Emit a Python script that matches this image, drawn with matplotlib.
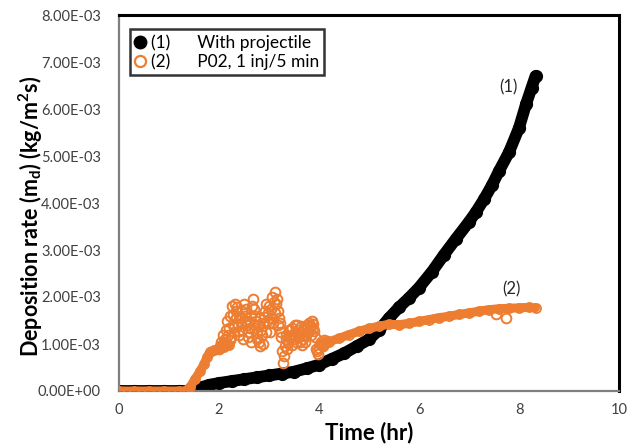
import numpy as np
import matplotlib
matplotlib.use("Agg")
import matplotlib.pyplot as plt
from matplotlib.lines import Line2D
from matplotlib.ticker import FuncFormatter

plt.rcParams['font.family'] = ['Lato', 'DejaVu Sans']

# ---- data (values in units of 1e-3 kg/m^2 s) ----
t_proj = [0.0, 0.3, 0.6, 0.9, 1.2, 1.45, 1.55, 1.65, 1.8, 2.0, 2.25, 2.5, 2.75, 3.0,
          3.25, 3.5, 3.75, 4.0, 4.25, 4.5, 4.75, 5.0, 5.2, 5.4, 5.6, 5.8, 6.0,
          6.26, 6.5, 6.74, 7.0, 7.14, 7.3, 7.46, 7.6, 7.8, 8.0, 8.14, 8.25, 8.33]
v_proj = [0.0, 0.0, 0.0, 0.0, 0.0, 0.0, 0.03, 0.08, 0.13, 0.17, 0.21, 0.25, 0.29, 0.33,
          0.37, 0.41, 0.48, 0.56, 0.68, 0.80, 0.95, 1.10, 1.30, 1.55, 1.78, 1.98, 2.20,
          2.54, 2.90, 3.24, 3.60, 3.81, 4.08, 4.38, 4.68, 5.08, 5.60, 6.10, 6.45, 6.70]

# P02 smooth segments
t_p02_a = [0.0, 0.3, 0.6, 0.9, 1.2, 1.32, 1.42, 1.52, 1.62, 1.70, 1.76, 1.82, 1.90, 2.00, 2.10, 2.20]
v_p02_a = [0.0, 0.0, 0.0, 0.0, 0.0, 0.0, 0.08, 0.25, 0.42, 0.57, 0.72, 0.84, 0.87, 0.89, 0.93, 0.97]
t_p02_b = [4.15, 4.2, 4.4, 4.6, 4.8, 5.0, 5.2, 5.4, 5.6, 5.8, 6.0, 6.2, 6.4, 6.6,
           6.8, 7.0, 7.2, 7.4, 7.6, 7.8, 8.0, 8.2, 8.33]
v_p02_b = [1.06, 1.05, 1.12, 1.20, 1.27, 1.33, 1.38, 1.42, 1.41, 1.44, 1.48, 1.52, 1.56, 1.59,
           1.63, 1.66, 1.70, 1.73, 1.75, 1.76, 1.77, 1.78, 1.77]
# P02 scattered (fluctuating) part
t_p02_s = [2.00, 2.04, 2.07, 2.10, 2.13, 2.16, 2.19, 2.22, 2.25, 2.28, 2.31, 2.34, 2.37, 2.40,
           2.43, 2.46, 2.49, 2.52, 2.55, 2.58, 2.61, 2.64, 2.67, 2.70, 2.73, 2.76, 2.79, 2.82,
           2.85, 2.88, 2.91, 2.94, 2.97, 3.00, 3.03, 3.06, 3.09, 3.12, 3.15, 3.18, 3.21, 3.24,
           3.26, 3.28, 3.31, 3.34, 3.37, 3.40, 3.43, 3.46, 3.49, 3.52, 3.55, 3.58, 3.61, 3.64,
           3.67, 3.70, 3.73, 3.76, 3.79, 3.82, 3.85, 3.88, 3.91, 3.94, 3.97, 4.00, 4.03, 4.06,
           4.09, 4.12, 4.15, 7.54, 7.74,
           2.02, 2.06, 2.09, 2.12, 2.15, 2.18, 2.21, 2.24, 2.27, 2.30, 2.33, 2.36, 2.39, 2.42,
           2.45, 2.48, 2.51, 2.54, 2.57, 2.60, 2.63, 2.66, 2.69, 2.72, 2.75, 2.78, 2.81, 2.84,
           2.87, 2.90, 2.93, 2.96, 2.99, 3.02, 3.05, 3.08, 3.11, 3.14, 3.17, 3.20, 3.23,
           3.29, 3.33, 3.36, 3.39, 3.42, 3.45, 3.48, 3.51, 3.54, 3.57, 3.60, 3.63, 3.66,
           3.69, 3.72, 3.75, 3.78, 3.81, 3.84, 3.87, 3.90, 3.96, 4.02, 4.08]
v_p02_s = [0.90, 1.05, 1.20, 1.05, 1.30, 1.50, 1.35, 1.60, 1.80, 1.62, 1.85, 1.55, 1.40, 1.20,
           1.45, 1.70, 1.85, 1.60, 1.40, 1.15, 1.35, 1.60, 1.95, 1.75, 1.50, 1.25, 1.05, 0.95,
           1.20, 1.45, 1.70, 1.85, 1.65, 1.45, 1.75, 2.00, 1.90, 2.10, 1.95, 1.70, 1.45, 1.15,
           0.85, 0.60, 0.95, 1.20, 1.05, 1.30, 1.15, 1.35, 1.10, 1.25, 1.40, 1.20, 1.05, 1.25,
           1.10, 1.30, 1.20, 1.35, 1.45, 1.30, 1.48, 1.35, 1.15, 0.90, 0.78, 0.92, 1.05, 0.98,
           1.08, 1.02, 1.06, 1.63, 1.55,
           0.95, 0.98, 1.02, 1.10, 1.00, 1.20, 1.08, 1.15, 1.40, 1.25, 1.70, 1.78, 1.28, 1.55,
           1.30, 1.10, 1.50, 1.75, 1.25, 1.50, 1.05, 1.80, 1.35, 1.60, 1.10, 1.40, 1.55, 1.30,
           1.00, 1.58, 1.25, 1.50, 1.80, 1.25, 1.55, 1.45, 1.65, 1.85, 1.40, 1.55, 1.25,
           0.75, 1.10, 0.90, 1.18, 1.30, 0.98, 1.20, 1.40, 1.05, 1.30, 1.15, 1.38, 0.98,
           1.20, 1.05, 1.40, 1.25, 1.38, 1.20, 1.42, 1.28, 0.85, 1.00, 0.95]

labels = ["(1)      With projectile", "(2)      P02, 1 inj/5 min"]
x_ticks = [0, 2, 4, 6, 8, 10]
y_ticks = [0, 1, 2, 3, 4, 5, 6, 7, 8]

orange = "#ED7D31"
sc = 1e-3

fig = plt.figure(figsize=(6.37, 4.48), dpi=100)
ax = fig.add_axes([119/637, 1-391/448, 500/637, 376/448])

ax.plot(t_proj, np.array(v_proj)*sc, color="black", lw=8.5, marker="o", ms=8.5,
        solid_capstyle="round", solid_joinstyle="round", zorder=2)
ax.plot(t_p02_a, np.array(v_p02_a)*sc, color=orange, lw=6.5, marker="o", ms=6.5,
        mfc="none", mew=1.3, solid_capstyle="round", solid_joinstyle="round", zorder=3)
ax.plot(t_p02_b, np.array(v_p02_b)*sc, color=orange, lw=6.5, marker="o", ms=6.5,
        mfc="none", mew=1.3, solid_capstyle="round", solid_joinstyle="round", zorder=3)
ax.plot(t_p02_s, np.array(v_p02_s)*sc, ls="none", marker="o", ms=7, mfc="none",
        mec=orange, mew=1.4, zorder=3)

ax.set_xlim(0, 10)
ax.set_ylim(0, 8e-3)
ax.set_xticks(x_ticks)
ax.set_yticks(np.array(y_ticks)*sc)
ax.yaxis.set_major_formatter(FuncFormatter(lambda v, p: "{:.2E}".format(v)))
ax.tick_params(length=0, labelsize=10.5, colors="#404040")
ax.tick_params(axis="y", pad=13)
ax.tick_params(axis="x", pad=9)

for s in ["top", "right"]:
    ax.spines[s].set_color("black")
    ax.spines[s].set_linewidth(2.2)
for s in ["left", "bottom"]:
    ax.spines[s].set_color("#7f7f7f")
    ax.spines[s].set_linewidth(1.6)

ax.set_xlabel("Time (hr)", fontsize=16, fontweight="bold", labelpad=3)
ax.set_ylabel("Deposition rate (m$_\\mathregular{d}$) (kg/m$^\\mathregular{2}$s)",
              fontsize=15.5, fontweight="bold", labelpad=3)
ax.yaxis.set_label_coords(-0.148, 0.465)

ax.text(7.78, 6.47e-3, "(1)", fontsize=12, ha="center", va="center", color="#262626")
ax.text(7.84, 2.17e-3, "(2)", fontsize=12, ha="center", va="center", color="#262626")

handles = [Line2D([], [], ls="none", marker="o", color="black", ms=9),
           Line2D([], [], ls="none", marker="o", mfc="none", mec=orange, mew=1.6, ms=8)]
leg = ax.legend(handles, labels, loc="upper left", bbox_to_anchor=(0.004, 0.985),
                fontsize=12.5, frameon=True, fancybox=False, handlelength=0.6,
                handletextpad=0.3, borderpad=0.3, labelspacing=0.15)
leg.get_frame().set_edgecolor("black")
leg.get_frame().set_linewidth(1.8)

fig.savefig("out.png", dpi=100)
